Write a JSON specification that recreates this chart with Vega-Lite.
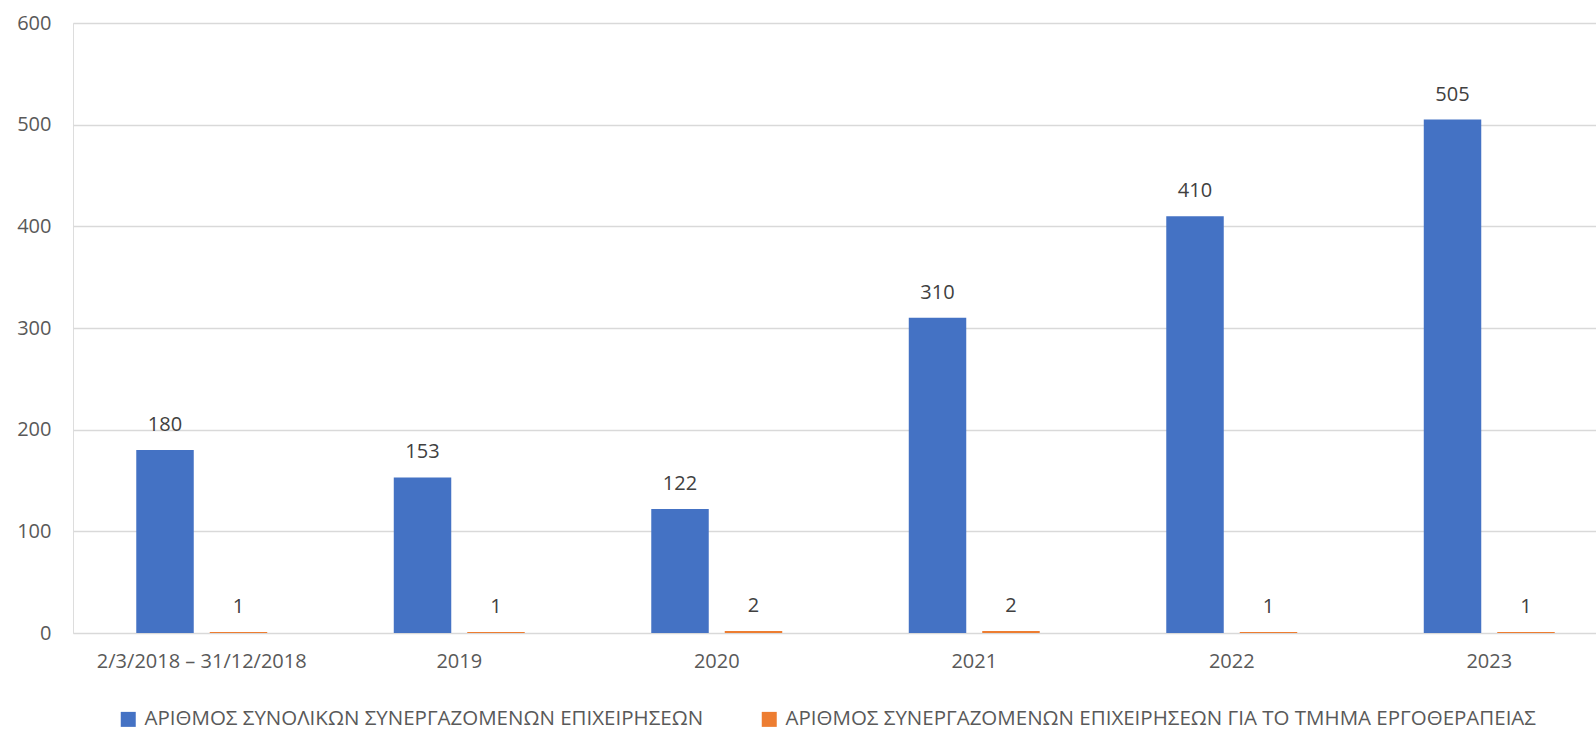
{
  "$schema": "https://vega.github.io/schema/vega-lite/v6.json",
  "width": 1523,
  "height": 610,
  "autosize": "none",
  "padding": {"left": 73, "top": 23, "right": 0, "bottom": 97},
  "background": "white",
  "data": {
    "values": [
      {"period": "2/3/2018 – 31/12/2018", "series": "ΑΡΙΘΜΟΣ ΣΥΝΟΛΙΚΩΝ ΣΥΝΕΡΓΑΖΟΜΕΝΩΝ ΕΠΙΧΕΙΡΗΣΕΩΝ", "value": 180},
      {"period": "2/3/2018 – 31/12/2018", "series": "ΑΡΙΘΜΟΣ  ΣΥΝΕΡΓΑΖΟΜΕΝΩΝ ΕΠΙΧΕΙΡΗΣΕΩΝ ΓΙΑ ΤΟ ΤΜΗΜΑ ΕΡΓΟΘΕΡΑΠΕΙΑΣ", "value": 1},
      {"period": "2019", "series": "ΑΡΙΘΜΟΣ ΣΥΝΟΛΙΚΩΝ ΣΥΝΕΡΓΑΖΟΜΕΝΩΝ ΕΠΙΧΕΙΡΗΣΕΩΝ", "value": 153},
      {"period": "2019", "series": "ΑΡΙΘΜΟΣ  ΣΥΝΕΡΓΑΖΟΜΕΝΩΝ ΕΠΙΧΕΙΡΗΣΕΩΝ ΓΙΑ ΤΟ ΤΜΗΜΑ ΕΡΓΟΘΕΡΑΠΕΙΑΣ", "value": 1},
      {"period": "2020", "series": "ΑΡΙΘΜΟΣ ΣΥΝΟΛΙΚΩΝ ΣΥΝΕΡΓΑΖΟΜΕΝΩΝ ΕΠΙΧΕΙΡΗΣΕΩΝ", "value": 122},
      {"period": "2020", "series": "ΑΡΙΘΜΟΣ  ΣΥΝΕΡΓΑΖΟΜΕΝΩΝ ΕΠΙΧΕΙΡΗΣΕΩΝ ΓΙΑ ΤΟ ΤΜΗΜΑ ΕΡΓΟΘΕΡΑΠΕΙΑΣ", "value": 2},
      {"period": "2021", "series": "ΑΡΙΘΜΟΣ ΣΥΝΟΛΙΚΩΝ ΣΥΝΕΡΓΑΖΟΜΕΝΩΝ ΕΠΙΧΕΙΡΗΣΕΩΝ", "value": 310},
      {"period": "2021", "series": "ΑΡΙΘΜΟΣ  ΣΥΝΕΡΓΑΖΟΜΕΝΩΝ ΕΠΙΧΕΙΡΗΣΕΩΝ ΓΙΑ ΤΟ ΤΜΗΜΑ ΕΡΓΟΘΕΡΑΠΕΙΑΣ", "value": 2},
      {"period": "2022", "series": "ΑΡΙΘΜΟΣ ΣΥΝΟΛΙΚΩΝ ΣΥΝΕΡΓΑΖΟΜΕΝΩΝ ΕΠΙΧΕΙΡΗΣΕΩΝ", "value": 410},
      {"period": "2022", "series": "ΑΡΙΘΜΟΣ  ΣΥΝΕΡΓΑΖΟΜΕΝΩΝ ΕΠΙΧΕΙΡΗΣΕΩΝ ΓΙΑ ΤΟ ΤΜΗΜΑ ΕΡΓΟΘΕΡΑΠΕΙΑΣ", "value": 1},
      {"period": "2023", "series": "ΑΡΙΘΜΟΣ ΣΥΝΟΛΙΚΩΝ ΣΥΝΕΡΓΑΖΟΜΕΝΩΝ ΕΠΙΧΕΙΡΗΣΕΩΝ", "value": 505},
      {"period": "2023", "series": "ΑΡΙΘΜΟΣ  ΣΥΝΕΡΓΑΖΟΜΕΝΩΝ ΕΠΙΧΕΙΡΗΣΕΩΝ ΓΙΑ ΤΟ ΤΜΗΜΑ ΕΡΓΟΘΕΡΑΠΕΙΑΣ", "value": 1}
    ]
  },
  "encoding": {
    "x": {
      "field": "period",
      "type": "nominal",
      "sort": null,
      "scale": {"range": [0, 1545], "paddingInner": 0, "paddingOuter": 0},
      "axis": {
        "title": null,
        "labelAngle": 0,
        "domain": false,
        "ticks": false,
        "labelPadding": 18,
        "labelLimit": 1000,
        "labelFont": "Open Sans",
        "labelFontSize": 20,
        "labelColor": "#595959"
      }
    },
    "xOffset": {
      "field": "series",
      "type": "nominal",
      "sort": null,
      "scale": {"paddingInner": 0.2177, "paddingOuter": 0.861}
    },
    "y": {
      "field": "value",
      "type": "quantitative",
      "scale": {"domain": [0, 600], "nice": false},
      "axis": {
        "title": null,
        "values": [0, 100, 200, 300, 400, 500, 600],
        "domain": false,
        "ticks": false,
        "labelPadding": 22,
        "labelFont": "Open Sans",
        "labelFontSize": 20,
        "labelColor": "#595959",
        "gridColor": "#d9d9d9",
        "gridWidth": 1.5
      }
    }
  },
  "layer": [
    {
      "mark": {"type": "bar"},
      "encoding": {
        "color": {
          "field": "series",
          "type": "nominal",
          "sort": null,
          "scale": {"range": ["#4472C4", "#ED7D31"]},
          "legend": {
            "title": null,
            "orient": "none",
            "direction": "horizontal",
            "legendX": 45,
            "legendY": 686,
            "symbolType": "square",
            "symbolSize": 225,
            "symbolStrokeWidth": 0,
            "labelFont": "Open Sans",
            "labelFontSize": 20.5,
            "labelColor": "#595959",
            "labelOffset": 6,
            "columnPadding": 55,
            "labelLimit": 1000
          }
        }
      }
    },
    {
      "mark": {"type": "text", "baseline": "alphabetic", "dy": -19, "font": "Open Sans", "fontSize": 20, "color": "#404040"},
      "encoding": {
        "text": {"field": "value", "type": "quantitative"}
      }
    }
  ]
}
